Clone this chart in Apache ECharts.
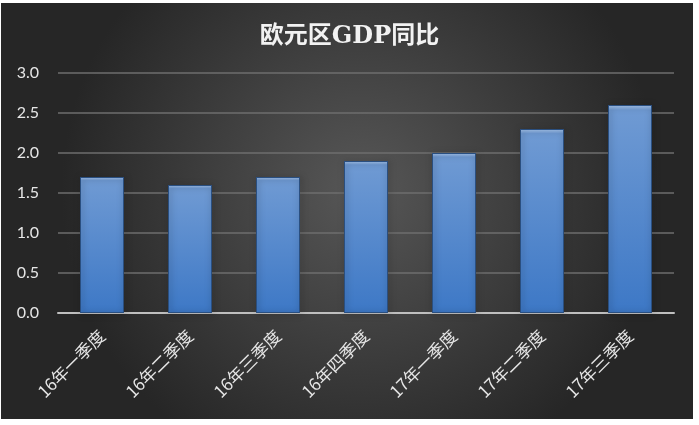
<!DOCTYPE html>
<html>
<head>
<meta charset="utf-8">
<script src="https://cdn.jsdelivr.net/npm/echarts@6/dist/echarts.min.js"></script>
<style>
  html, body { margin: 0; padding: 0; background: #ffffff; }
  #chart { width: 699px; height: 425px; }
</style>
</head>
<body>
<div id="chart"></div>
<script>
// 欧元区GDP同比 data
var categories = ['16年一季度', '16年二季度', '16年三季度', '16年四季度', '17年一季度', '17年二季度', '17年三季度'];
var gdpYoY = [1.7, 1.6, 1.7, 1.9, 2.0, 2.3, 2.6];

var myChart = echarts.init(document.getElementById('chart'));

var option = {
  backgroundColor: '#ffffff',
  // dark chart panel, slightly inset like the original picture
  graphic: [
    {
      type: 'rect',
      z: -10,
      silent: true,
      shape: { x: 1, y: 3, width: 692, height: 416 },
      style: {
        fill: {
          type: 'radial', x: 0.52, y: 0.45, r: 0.72,
          colorStops: [
            { offset: 0, color: '#575757' },
            { offset: 1, color: '#262626' }
          ]
        }
      }
    }
  ],
  title: {
    text: '欧元区GDP同比',
    left: 'center',
    top: 20,
    textStyle: {
      color: '#f2f2f2',
      fontSize: 24,
      fontWeight: 'bold',
      fontFamily: '"DejaVu Serif", "Noto Sans CJK SC", serif'
    }
  },
  grid: { left: 58, right: 25, top: 73, bottom: 112 },
  xAxis: {
    type: 'category',
    data: categories,
    axisLine: { lineStyle: { color: '#bfbfbf', width: 2 } },
    axisTick: { show: false },
    axisLabel: {
      rotate: 45,
      color: '#e6e6e6',
      fontSize: 17,
      margin: 20,
      fontFamily: '"Noto Sans CJK SC", sans-serif'
    }
  },
  yAxis: {
    type: 'value',
    min: 0,
    max: 3,
    interval: 0.5,
    axisLine: { show: false },
    axisTick: { show: false },
    splitLine: { lineStyle: { color: '#6e6e6e', width: 1.5 } },
    axisLabel: {
      color: '#e6e6e6',
      fontSize: 16,
      margin: 19,
      fontFamily: 'Lato, "Open Sans", sans-serif',
      formatter: function (v) { return v.toFixed(1); }
    }
  },
  series: [
    {
      name: 'GDP同比',
      type: 'bar',
      data: gdpYoY,
      barWidth: '50%',
      itemStyle: {
        color: {
          type: 'linear', x: 0, y: 0, x2: 0, y2: 1,
          colorStops: [
            { offset: 0, color: '#a9c8f0' },
            { offset: 0.025, color: '#6f9ad3' },
            { offset: 1, color: '#3d78c6' }
          ]
        },
        borderColor: '#2a4f80',
        borderWidth: 1,
        shadowColor: 'rgba(0,0,0,0.55)',
        shadowBlur: 6,
        shadowOffsetX: 1,
        shadowOffsetY: 1
      }
    }
  ]
};

myChart.setOption(option);
</script>
</body>
</html>
